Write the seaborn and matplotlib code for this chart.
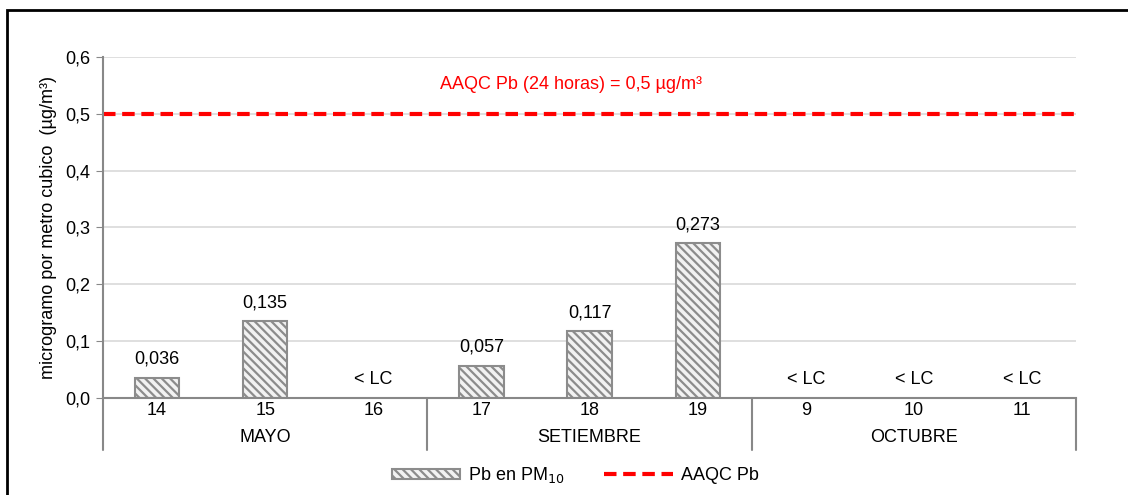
import pandas as pd
import matplotlib.pyplot as plt
import matplotlib.transforms as mtransforms
from matplotlib.patches import Patch, Rectangle
from matplotlib.lines import Line2D
import seaborn as sns

# data
days = ['14', '15', '16', '17', '18', '19', '9', '10', '11']
months = ['MAYO', 'SETIEMBRE', 'OCTUBRE']
month_sizes = [3, 3, 3]
pb_values = [0.036, 0.135, None, 0.057, 0.117, 0.273, None, None, None]
aaqc_limit = 0.5

df = pd.DataFrame({'dia': [f'{i}-{d}' for i, d in enumerate(days)], 'pb': pb_values})

sns.set_style('white')
plt.rcParams['font.family'] = ['Liberation Sans', 'DejaVu Sans']
plt.rcParams['hatch.linewidth'] = 1.6
plt.rcParams['text.color'] = 'black'
plt.rcParams['xtick.color'] = 'black'
plt.rcParams['ytick.color'] = 'black'
plt.rcParams['axes.labelcolor'] = 'black'

FS = 13
bar_face = '#f2f2f2'
bar_edge = '#8c8c8c'
hatch = '\\\\\\\\'

fig = plt.figure(figsize=(11.28, 4.95), dpi=100)
ax = fig.add_axes([0.0913, 0.196, 0.8627, 0.689])

sns.barplot(data=df, x='dia', y='pb', width=0.41, color=bar_face,
            edgecolor=bar_edge, linewidth=1.5, hatch=hatch, ax=ax)

ax.axhline(aaqc_limit, color='red', linestyle=(0, (3, 1.6)), linewidth=3)
ax.text(3.83, 0.551, 'AAQC Pb (24 horas) = 0,5 µg/m³', color='red',
        fontsize=FS, ha='center', va='center')

# value labels
for i, v in enumerate(pb_values):
    label = '< LC' if v is None else f'{v:.3f}'.replace('.', ',')
    ax.annotate(label, (i, 0 if v is None else v), xytext=(0, 7),
                textcoords='offset points', ha='center', va='bottom', fontsize=FS)

ax.set_xlim(-0.5, len(days) - 0.5)
ax.set_ylim(0, 0.6)
ax.set_yticks([0, 0.1, 0.2, 0.3, 0.4, 0.5, 0.6])
ax.set_yticklabels([f'{t:.1f}'.replace('.', ',') for t in ax.get_yticks()], fontsize=FS)
ax.set_xticks(range(len(days)))
ax.set_xticklabels(days, fontsize=FS)
ax.tick_params(axis='x', length=0, pad=3)
ax.tick_params(axis='y', length=5, color='#888888', left=True, pad=4)
ax.set_xlabel('')
ax.set_ylabel('microgramo por metro cubico  (µg/m³)', fontsize=FS, labelpad=6)

ax.yaxis.grid(True, color='#d9d9d9', linewidth=1.2)
ax.set_axisbelow(True)
for side in ['top', 'right']:
    ax.spines[side].set_visible(False)
for side in ['left', 'bottom']:
    ax.spines[side].set_color('#888888')
    ax.spines[side].set_linewidth(1.5)

# month grouping below the axis
trans = mtransforms.blended_transform_factory(ax.transData, ax.transAxes)
start = -0.5
ax.plot([start, start], [0, -0.152], transform=trans, color='#888888', lw=1.5, clip_on=False)
for m, n in zip(months, month_sizes):
    end = start + n
    ax.plot([end, end], [0, -0.152], transform=trans, color='#888888', lw=1.5, clip_on=False)
    ax.text((start + end) / 2, -0.117, m, transform=trans, ha='center', va='center', fontsize=FS)
    start = end

handles = [Patch(facecolor=bar_face, edgecolor=bar_edge, hatch=hatch, linewidth=1.5),
           Line2D([0], [0], color='red', linestyle=(0, (3, 1.6)), linewidth=3)]
fig.legend(handles, ['Pb en PM$_{10}$', 'AAQC Pb'], loc='center', ncol=2,
           bbox_to_anchor=(0.51, 0.04), frameon=False, fontsize=FS,
           handlelength=3.8, handleheight=0.5, handletextpad=0.45, columnspacing=2.2)

fig.patches.append(Rectangle((0.0062, -0.1), 1.1, 1.08, transform=fig.transFigure,
                             fill=False, edgecolor='black', linewidth=2))

fig.savefig('out.png', dpi=100)
